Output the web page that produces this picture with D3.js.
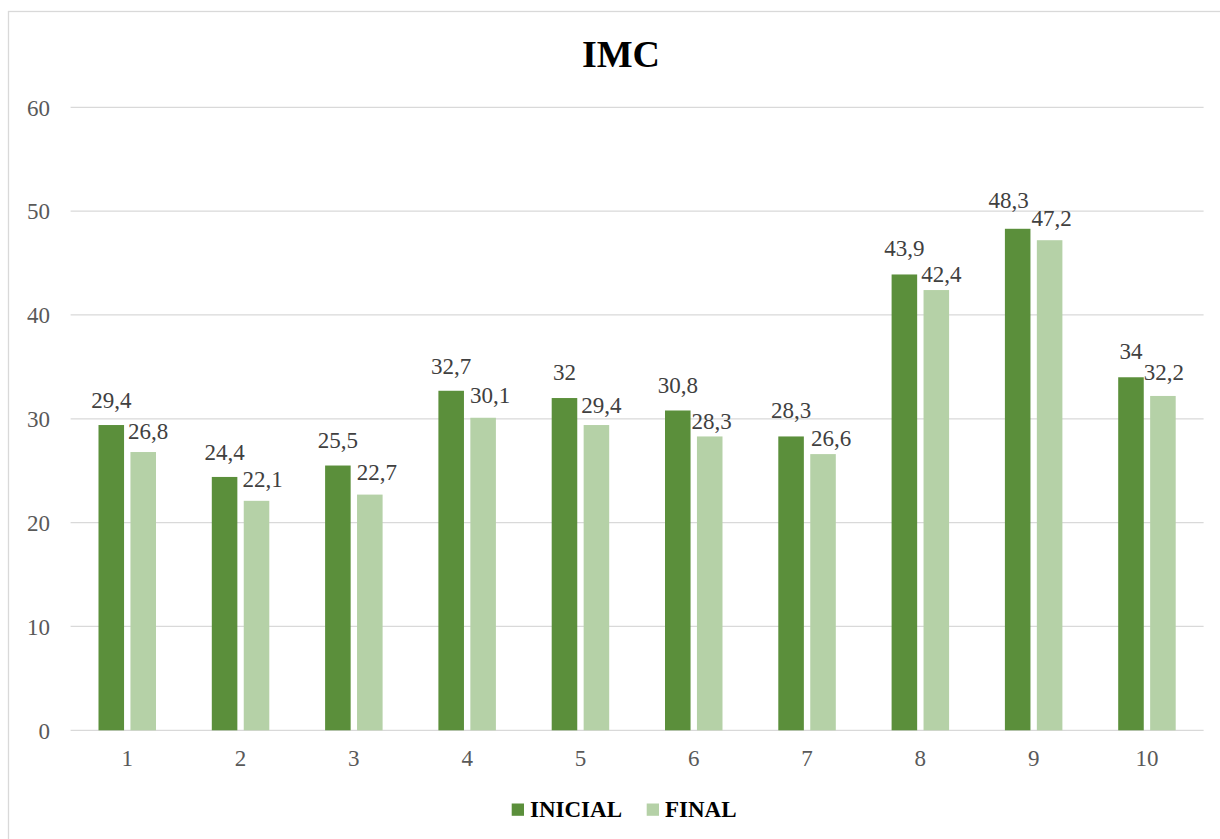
<!DOCTYPE html>
<html>
<head>
<meta charset="utf-8">
<script src="https://cdn.jsdelivr.net/npm/d3@7"></script>
<style>
  html, body { margin: 0; padding: 0; background: #fff; }
  svg { display: block; }
  text { font-family: "Liberation Serif", "Times New Roman", serif; }
</style>
</head>
<body>
<svg id="chart" width="1220" height="839"></svg>
<script>
// Body-mass index per participant, at start and end
const categories = ["1", "2", "3", "4", "5", "6", "7", "8", "9", "10"];
const seriesNames = ["INICIAL", "FINAL"];
const inicial = [29.4, 24.4, 25.5, 32.7, 32, 30.8, 28.3, 43.9, 48.3, 34];
const final   = [26.8, 22.1, 22.7, 30.1, 29.4, 28.3, 26.6, 42.4, 47.2, 32.2];
const yTicks  = [0, 10, 20, 30, 40, 50, 60];

// Small hand-tuned label nudges (px) so neighbouring value labels don't collide
const nudgeInicial = { dx: [0, 0, 0, 0, 0, 0, 0, 0, -9, 0], gap: [17, 17, 18, 17, 18, 17, 18, 18, 21, 18] };
const nudgeFinal   = { dx: [5, 6, 7, 7, 5, 2, 8, 5, 2, 1], gap: [13, 14, 15, 15, 12, 7, 8, 8, 14, 16] };

const colors = { INICIAL: "#5b8f3b", FINAL: "#b5d1a7" };
const serif = "Liberation Serif, Times New Roman, serif";
const fmt = v => String(v).replace(".", ",");

const svg = d3.select("#chart");

// outer chart frame
svg.append("rect")
  .attr("x", 8.5).attr("y", 11.5)
  .attr("width", 1400).attr("height", 1000)
  .attr("fill", "#fff").attr("stroke", "#d9d9d9").attr("stroke-width", 1.3);

const plot = { left: 70.6, right: 1203.6, top: 107.3, bottom: 730.3 };

const x = d3.scaleBand().domain(categories).range([plot.left, plot.right]).padding(0);
const groupW = 57.5;
const xs = d3.scaleBand().domain(seriesNames).range([0, groupW]).paddingInner(0.2);
const y = d3.scaleLinear().domain([0, 60]).range([plot.bottom, plot.top]);

// horizontal gridlines
svg.append("g").selectAll("line").data(yTicks).join("line")
  .attr("x1", plot.left).attr("x2", plot.right)
  .attr("y1", d => y(d)).attr("y2", d => y(d))
  .attr("stroke", "#d9d9d9").attr("stroke-width", 1.3);

// y axis labels
const yAxis = d3.axisLeft(y).tickValues(yTicks).tickSize(0).tickPadding(0).tickFormat(d => d);
const gy = svg.append("g").attr("transform", "translate(50,0)").call(yAxis);
gy.select(".domain").remove();
gy.attr("font-family", serif);
gy.selectAll("text")
  .attr("font-size", 23).attr("fill", "#595959").attr("dy", "0.34em");

// x axis labels
const xAxis = d3.axisBottom(x).tickSize(0).tickPadding(0);
const gx = svg.append("g").attr("transform", `translate(0,${plot.bottom})`).call(xAxis);
gx.select(".domain").remove();
gx.attr("font-family", serif);
gx.selectAll("text")
  .attr("font-size", 23).attr("fill", "#595959").attr("dy", null).attr("y", 36);

const rows = categories.map((c, i) => ({ c, i, vals: [
  { s: "INICIAL", v: inicial[i], n: nudgeInicial },
  { s: "FINAL", v: final[i], n: nudgeFinal }
]}));

const off = (x.bandwidth() - groupW) / 2;
const groups = svg.append("g").selectAll("g").data(rows).join("g")
  .attr("transform", d => `translate(${x(d.c) + off},0)`);

groups.selectAll("rect").data(d => d.vals.map(v => ({ ...v, i: d.i }))).join("rect")
  .attr("x", d => xs(d.s)).attr("width", xs.bandwidth())
  .attr("y", d => y(d.v)).attr("height", d => y(0) - y(d.v))
  .attr("fill", d => colors[d.s]);

// value labels above each bar
groups.selectAll("text").data(d => d.vals.map(v => ({ ...v, i: d.i }))).join("text")
  .attr("x", d => xs(d.s) + xs.bandwidth() / 2 + d.n.dx[d.i])
  .attr("y", d => y(d.v) - d.n.gap[d.i])
  .attr("text-anchor", "middle")
  .attr("font-family", serif)
  .attr("font-size", 23).attr("fill", "#404040")
  .text(d => fmt(d.v));

// title
svg.append("text")
  .attr("x", 621).attr("y", 67)
  .attr("text-anchor", "middle")
  .attr("font-family", serif)
  .attr("font-size", 38).attr("font-weight", "bold").attr("fill", "#000")
  .text("IMC");

// legend
const legendX = [511.7, 646.7];
const lg = svg.append("g").selectAll("g").data(seriesNames).join("g")
  .attr("transform", (d, i) => `translate(${legendX[i]},803.5)`);
lg.append("rect").attr("width", 12.3).attr("height", 12.3).attr("fill", d => colors[d]);
lg.append("text").attr("x", 18.3).attr("y", 13.2)
  .attr("font-family", serif)
  .attr("font-size", 23).attr("font-weight", "bold").attr("fill", "#000")
  .text(d => d);
</script>
</body>
</html>
